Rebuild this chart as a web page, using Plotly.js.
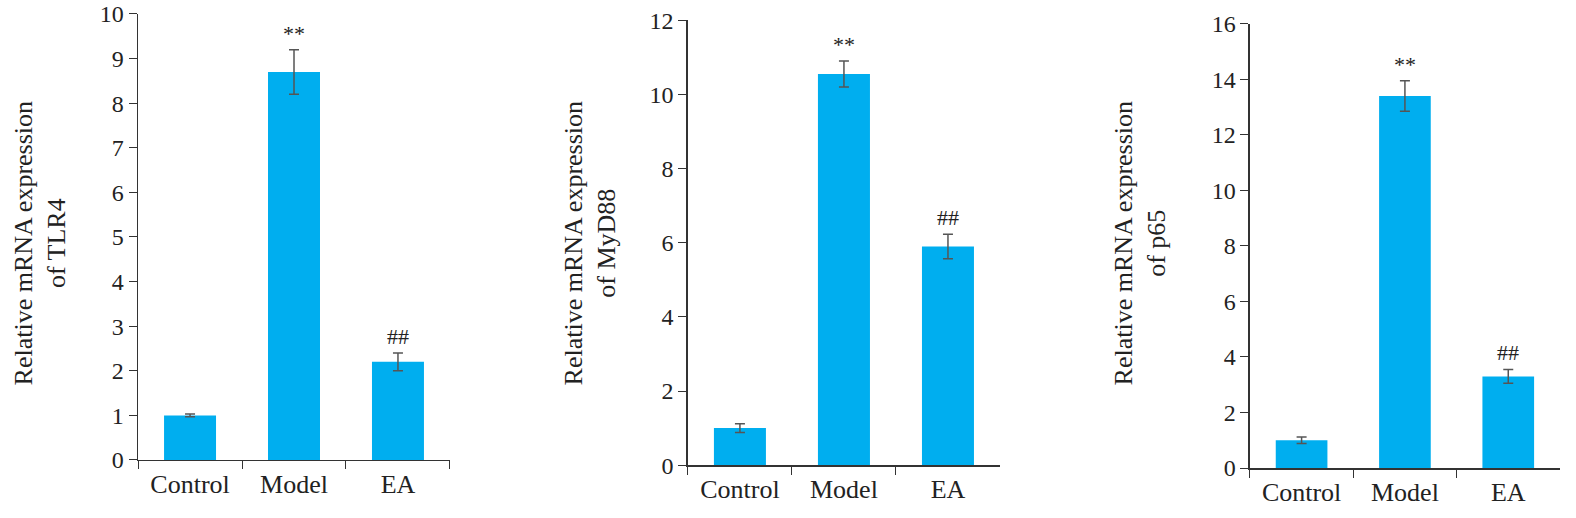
<!DOCTYPE html>
<html>
<head>
<meta charset="utf-8">
<script src="https://cdn.plot.ly/plotly-3.0.1.min.js"></script>
<style>html,body{margin:0;padding:0;background:#fff}#chart{width:1576px;height:518px}</style>
</head>
<body>
<div id="chart"></div>
<script>
const groups = ["Control", "Model", "EA"];
const genes = ["TLR4", "MyD88", "p65"];
const tlr4 = [1.0, 8.7, 2.2];
const tlr4Err = [0.03, 0.5, 0.2];
const myd88 = [1.0, 10.55, 5.9];
const myd88Err = [0.12, 0.35, 0.33];
const p65 = [1.0, 13.4, 3.3];
const p65Err = [0.12, 0.55, 0.25];
const marks = ["", "**", "##"];
const yMax = [10, 12, 16];
const yStep = [1, 2, 2];

const series = [[tlr4, tlr4Err], [myd88, myd88Err], [p65, p65Err]];
const xDom = [[0.0876, 0.2855], [0.4365, 0.6345], [0.7931, 0.9898]];
const yDom = [[0.112, 0.973], [0.102, 0.961], [0.0965, 0.954]];
const titleX = [40 / 1576, 590 / 1576, 1140 / 1576];
const font = "'Liberation Serif', 'DejaVu Serif', serif";

const data = [];
const layout = {
  width: 1576, height: 518, margin: { l: 0, r: 0, t: 0, b: 0 },
  paper_bgcolor: "#fff", plot_bgcolor: "#fff", showlegend: false,
  font: { family: font, size: 24, color: "#222" },
  annotations: [],
};

series.forEach(([vals, errs], i) => {
  const n = i === 0 ? "" : String(i + 1);
  data.push({
    type: "bar", x: groups, y: vals, xaxis: "x" + n, yaxis: "y" + n,
    width: 0.5, marker: { color: "#00aeef" },
    error_y: { type: "data", array: errs, visible: true, color: "#555", thickness: 1.5, width: 5 },
  });
  layout["xaxis" + n] = {
    domain: xDom[i], anchor: "y" + n, range: [-0.5, 2.5],
    showline: true, linecolor: "#333", linewidth: 1.5,
    ticks: "outside", tickson: "boundaries", ticklen: 8, tickcolor: "#333",
    tickfont: { family: font, size: 26, color: "#222" }, showgrid: false,
  };
  layout["yaxis" + n] = {
    domain: yDom[i], anchor: "x" + n, range: [0, yMax[i]], dtick: yStep[i],
    showline: true, linecolor: "#333", linewidth: 1.5,
    ticks: "outside", ticklen: 8, tickcolor: "#333", showgrid: false, zeroline: false,
    tickfont: { family: font, size: 24, color: "#222" },
  };
  layout.annotations.push({
    xref: "paper", yref: "paper", x: titleX[i], y: 0.53, textangle: -90,
    xanchor: "center", yanchor: "middle",
    text: "Relative mRNA expression<br>of " + genes[i], showarrow: false,
    font: { family: font, size: 26, color: "#222" },
  });
  groups.forEach((g, j) => {
    if (!marks[j]) return;
    layout.annotations.push({
      xref: "x" + n, yref: "y" + n, x: g, y: vals[j] + errs[j],
      text: marks[j], showarrow: false, yanchor: "bottom", yshift: 2,
      font: { family: font, size: 22, color: "#222" },
    });
  });
});

Plotly.newPlot("chart", data, layout, { displayModeBar: false, staticPlot: true });
</script>
</body>
</html>
